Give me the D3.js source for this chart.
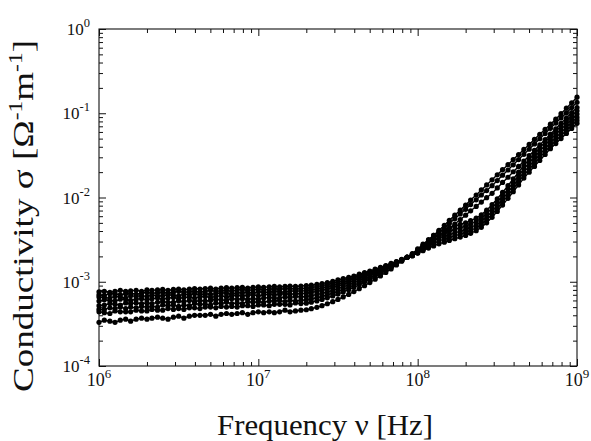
<!DOCTYPE html>
<html><head><meta charset="utf-8">
<script src="https://cdn.jsdelivr.net/npm/d3@7"></script>
<style>body{margin:0;background:#fff}svg{display:block}</style>
</head><body><svg id="c" width="591" height="441"></svg>
<script>
// Frequency grid (Hz)
const freq = [
1.00e6,1.08e6,1.17e6,1.26e6,1.36e6,1.47e6,1.58e6,1.71e6,1.85e6,2.00e6,2.15e6,2.33e6,2.51e6,2.71e6,2.93e6,3.16e6,3.41e6,3.69e6,3.98e6,4.30e6,4.64e6,5.01e6,5.41e6,5.84e6,6.31e6,6.81e6,7.36e6,7.94e6,8.58e6,9.26e6,
1.00e7,1.08e7,1.17e7,1.26e7,1.36e7,1.47e7,1.58e7,1.71e7,1.85e7,2.00e7,2.15e7,2.33e7,2.51e7,2.71e7,2.93e7,3.16e7,3.41e7,3.69e7,3.98e7,4.30e7,4.64e7,5.01e7,5.41e7,5.84e7,6.31e7,6.81e7,7.36e7,7.94e7,8.58e7,9.26e7,
1.00e8,1.08e8,1.17e8,1.26e8,1.36e8,1.47e8,1.58e8,1.71e8,1.85e8,2.00e8,2.15e8,2.33e8,2.51e8,2.71e8,2.93e8,3.16e8,3.41e8,3.69e8,3.98e8,4.30e8,4.64e8,5.01e8,5.41e8,5.84e8,6.31e8,6.81e8,7.36e8,7.94e8,8.58e8,9.26e8,
1.00e9];

// Conductivity series (Ω^-1 m^-1)
const s1 = [7.6e-4,7.7e-4,7.5e-4,7.7e-4,7.9e-4,7.7e-4,7.8e-4,7.9e-4,7.7e-4,8.0e-4,7.9e-4,8.0e-4,8.1e-4,7.9e-4,8.1e-4,8.2e-4,8.0e-4,8.2e-4,8.3e-4,8.2e-4,8.3e-4,8.4e-4,8.2e-4,8.4e-4,8.5e-4,8.4e-4,8.5e-4,8.6e-4,8.4e-4,8.6e-4,8.7e-4,8.6e-4,8.7e-4,8.8e-4,8.7e-4,8.8e-4,8.9e-4,8.8e-4,8.9e-4,
9.0e-4,9.1e-4,9.3e-4,9.5e-4,9.8e-4,1.01e-3,1.05e-3,1.09e-3,1.13e-3,1.17e-3,1.23e-3,1.28e-3,1.34e-3,1.41e-3,1.48e-3,1.56e-3,1.65e-3,1.74e-3,1.84e-3,1.95e-3,
2.09e-3,2.34e-3,2.69e-3,3.09e-3,3.55e-3,4.07e-3,4.68e-3,5.37e-3,6.17e-3,7.08e-3,8.13e-3,9.33e-3,1.07e-2,1.23e-2,1.41e-2,1.62e-2,1.86e-2,2.14e-2,2.45e-2,2.82e-2,3.24e-2,3.72e-2,4.27e-2,4.90e-2,5.62e-2,6.46e-2,7.41e-2,8.51e-2,9.89e-2,0.115,0.133,0.155];
const s2 = [7.0e-4,6.9e-4,7.2e-4,7.2e-4,7.0e-4,7.2e-4,7.3e-4,7.1e-4,7.3e-4,7.5e-4,7.3e-4,7.4e-4,7.5e-4,7.3e-4,7.5e-4,7.7e-4,7.5e-4,7.6e-4,7.7e-4,7.5e-4,7.7e-4,7.9e-4,7.7e-4,7.8e-4,7.9e-4,7.7e-4,8.0e-4,8.1e-4,7.9e-4,8.0e-4,8.2e-4,8.0e-4,8.1e-4,8.3e-4,8.1e-4,8.3e-4,8.3e-4,8.2e-4,8.3e-4,
8.40e-4,8.55e-4,8.74e-4,8.98e-4,9.25e-4,9.57e-4,9.92e-4,1.03e-3,1.08e-3,1.12e-3,1.18e-3,1.24e-3,1.30e-3,1.37e-3,1.45e-3,1.53e-3,1.62e-3,1.72e-3,1.83e-3,1.95e-3,
2.04e-3,2.24e-3,2.51e-3,2.88e-3,3.31e-3,3.80e-3,4.33e-3,4.92e-3,5.60e-3,6.37e-3,7.24e-3,8.24e-3,9.38e-3,1.07e-2,1.21e-2,1.38e-2,1.59e-2,1.84e-2,2.12e-2,2.44e-2,2.82e-2,3.25e-2,3.74e-2,4.32e-2,4.98e-2,5.74e-2,6.62e-2,7.64e-2,8.79e-2,0.101,0.117,0.135];
const s3 = [6.6e-4,6.5e-4,6.4e-4,6.7e-4,6.6e-4,6.4e-4,6.8e-4,6.7e-4,6.8e-4,6.7e-4,6.9e-4,6.8e-4,6.8e-4,7.0e-4,6.9e-4,6.8e-4,7.1e-4,7.0e-4,7.2e-4,7.0e-4,7.2e-4,7.1e-4,7.2e-4,7.4e-4,7.3e-4,7.1e-4,7.4e-4,7.4e-4,7.5e-4,7.3e-4,7.6e-4,7.5e-4,7.5e-4,7.7e-4,7.6e-4,7.5e-4,7.8e-4,7.7e-4,7.8e-4,
7.84e-4,7.99e-4,8.19e-4,8.43e-4,8.71e-4,9.03e-4,9.39e-4,9.80e-4,1.03e-3,1.08e-3,1.13e-3,1.19e-3,1.26e-3,1.33e-3,1.41e-3,1.50e-3,1.60e-3,1.70e-3,1.82e-3,1.95e-3,
2.04e-3,2.19e-3,2.40e-3,2.69e-3,3.02e-3,3.39e-3,3.82e-3,4.31e-3,4.85e-3,5.47e-3,6.17e-3,6.95e-3,7.83e-3,8.83e-3,9.95e-3,1.12e-2,1.30e-2,1.51e-2,1.74e-2,2.02e-2,2.34e-2,2.71e-2,3.14e-2,3.64e-2,4.21e-2,4.88e-2,5.65e-2,6.55e-2,7.59e-2,8.77e-2,0.102,0.117];
const s4 = [5.9e-4,6.1e-4,6.0e-4,5.9e-4,6.2e-4,6.2e-4,6.0e-4,6.2e-4,6.3e-4,6.1e-4,6.3e-4,6.4e-4,6.2e-4,6.4e-4,6.5e-4,6.3e-4,6.5e-4,6.6e-4,6.4e-4,6.6e-4,6.7e-4,6.5e-4,6.7e-4,6.8e-4,6.6e-4,6.8e-4,6.9e-4,6.8e-4,6.9e-4,7.0e-4,6.8e-4,7.0e-4,7.1e-4,7.0e-4,7.1e-4,7.2e-4,7.1e-4,7.2e-4,7.2e-4,
7.32e-4,7.47e-4,7.67e-4,7.91e-4,8.20e-4,8.52e-4,8.90e-4,9.31e-4,9.77e-4,1.03e-3,1.09e-3,1.15e-3,1.22e-3,1.29e-3,1.38e-3,1.47e-3,1.57e-3,1.69e-3,1.81e-3,1.95e-3,
2.16e-3,2.45e-3,2.79e-3,3.16e-3,3.55e-3,3.98e-3,4.17e-3,4.37e-3,4.57e-3,4.79e-3,5.01e-3,5.31e-3,5.69e-3,6.24e-3,7.08e-3,8.22e-3,9.66e-3,1.15e-2,1.38e-2,1.66e-2,2.00e-2,2.40e-2,2.82e-2,3.31e-2,3.89e-2,4.57e-2,5.37e-2,6.17e-2,7.08e-2,8.13e-2,9.33e-2,0.107];
const s5 = [5.2e-4,5.3e-4,5.5e-4,5.4e-4,5.3e-4,5.6e-4,5.5e-4,5.6e-4,5.5e-4,5.6e-4,5.5e-4,5.7e-4,5.8e-4,5.7e-4,5.7e-4,5.9e-4,5.8e-4,6.0e-4,5.8e-4,6.0e-4,5.9e-4,6.0e-4,6.2e-4,6.1e-4,6.0e-4,6.3e-4,6.2e-4,6.3e-4,6.2e-4,6.3e-4,6.2e-4,6.4e-4,6.5e-4,6.4e-4,6.4e-4,6.6e-4,6.5e-4,6.7e-4,6.6e-4,
6.69e-4,6.84e-4,7.04e-4,7.28e-4,7.56e-4,7.89e-4,8.27e-4,8.69e-4,9.16e-4,9.69e-4,1.03e-3,1.09e-3,1.17e-3,1.25e-3,1.34e-3,1.43e-3,1.54e-3,1.66e-3,1.80e-3,1.95e-3,
2.13e-3,2.38e-3,2.66e-3,2.97e-3,3.29e-3,3.63e-3,3.80e-3,3.98e-3,4.17e-3,4.37e-3,4.57e-3,4.84e-3,5.19e-3,5.69e-3,6.46e-3,7.50e-3,8.81e-3,1.05e-2,1.26e-2,1.51e-2,1.82e-2,2.19e-2,2.57e-2,3.02e-2,3.55e-2,4.17e-2,4.90e-2,5.62e-2,6.46e-2,7.41e-2,8.51e-2,9.77e-2];
const s6 = [4.7e-4,4.7e-4,4.9e-4,4.8e-4,5.0e-4,4.8e-4,5.0e-4,4.9e-4,5.1e-4,5.0e-4,5.1e-4,5.0e-4,5.3e-4,5.2e-4,5.3e-4,5.1e-4,5.3e-4,5.2e-4,5.5e-4,5.4e-4,5.4e-4,5.3e-4,5.6e-4,5.5e-4,5.7e-4,5.5e-4,5.6e-4,5.5e-4,5.8e-4,5.7e-4,5.8e-4,5.7e-4,5.9e-4,5.9e-4,6.0e-4,5.8e-4,6.0e-4,5.9e-4,6.0e-4,
6.11e-4,6.25e-4,6.45e-4,6.69e-4,6.98e-4,7.31e-4,7.69e-4,8.11e-4,8.59e-4,9.13e-4,9.72e-4,1.04e-3,1.11e-3,1.20e-3,1.29e-3,1.40e-3,1.51e-3,1.64e-3,1.79e-3,1.95e-3,
2.10e-3,2.31e-3,2.54e-3,2.80e-3,3.04e-3,3.31e-3,3.47e-3,3.63e-3,3.80e-3,3.98e-3,4.17e-3,4.42e-3,4.73e-3,5.19e-3,5.89e-3,6.84e-3,8.04e-3,9.55e-3,1.15e-2,1.38e-2,1.66e-2,2.00e-2,2.34e-2,2.75e-2,3.24e-2,3.80e-2,4.47e-2,5.13e-2,5.89e-2,6.76e-2,7.76e-2,8.91e-2];
const s7 = [4.4e-4,4.3e-4,4.2e-4,4.5e-4,4.4e-4,4.4e-4,4.4e-4,4.6e-4,4.5e-4,4.5e-4,4.7e-4,4.6e-4,4.6e-4,4.8e-4,4.7e-4,4.8e-4,4.7e-4,4.9e-4,4.9e-4,4.8e-4,5.0e-4,5.0e-4,4.9e-4,5.1e-4,5.0e-4,5.1e-4,5.0e-4,5.2e-4,5.2e-4,5.1e-4,5.3e-4,5.3e-4,5.2e-4,5.4e-4,5.4e-4,5.4e-4,5.3e-4,5.6e-4,5.5e-4,
5.57e-4,5.72e-4,5.92e-4,6.16e-4,6.44e-4,6.77e-4,7.14e-4,7.57e-4,8.05e-4,8.60e-4,9.21e-4,9.90e-4,1.07e-3,1.15e-3,1.25e-3,1.36e-3,1.48e-3,1.62e-3,1.78e-3,1.95e-3,
2.07e-3,2.25e-3,2.44e-3,2.65e-3,2.84e-3,3.05e-3,3.20e-3,3.35e-3,3.51e-3,3.67e-3,3.85e-3,4.07e-3,4.37e-3,4.79e-3,5.43e-3,6.31e-3,7.41e-3,8.81e-3,1.06e-2,1.27e-2,1.53e-2,1.84e-2,2.16e-2,2.54e-2,2.99e-2,3.51e-2,4.12e-2,4.73e-2,5.43e-2,6.24e-2,7.16e-2,8.22e-2];
const s8 = [3.3e-4,3.5e-4,3.4e-4,3.3e-4,3.5e-4,3.6e-4,3.4e-4,3.6e-4,3.7e-4,3.6e-4,3.7e-4,3.8e-4,3.7e-4,3.6e-4,3.8e-4,3.9e-4,3.7e-4,3.9e-4,4.0e-4,4.0e-4,4.0e-4,4.1e-4,3.9e-4,4.1e-4,4.2e-4,4.1e-4,4.2e-4,4.3e-4,4.1e-4,4.3e-4,4.4e-4,4.3e-4,4.4e-4,4.3e-4,4.4e-4,4.6e-4,4.4e-4,4.5e-4,4.6e-4,
4.65e-4,4.79e-4,4.97e-4,5.20e-4,5.48e-4,5.80e-4,6.17e-4,6.60e-4,7.08e-4,7.64e-4,8.26e-4,8.97e-4,9.77e-4,1.07e-3,1.17e-3,1.29e-3,1.42e-3,1.58e-3,1.75e-3,1.95e-3,
2.04e-3,2.19e-3,2.34e-3,2.51e-3,2.66e-3,2.82e-3,2.95e-3,3.09e-3,3.24e-3,3.39e-3,3.55e-3,3.76e-3,4.03e-3,4.42e-3,5.01e-3,5.82e-3,6.84e-3,8.13e-3,9.77e-3,1.17e-2,1.41e-2,1.70e-2,2.00e-2,2.34e-2,2.75e-2,3.24e-2,3.80e-2,4.37e-2,5.01e-2,5.75e-2,6.61e-2,7.59e-2];
const seriesList = [s1, s2, s3, s4, s5, s6, s7, s8];

// Axis ticks and labels
const xTicks = [1e6, 1e7, 1e8, 1e9];
const xExp = ["6", "7", "8", "9"];
const yTicks = [1e-4, 1e-3, 1e-2, 1e-1, 1e0];
const yExp = ["-4", "-3", "-2", "-1", "0"];
const xTitle = "Frequency  \u03bd [Hz]";
const yTitle = ["Conductivity  \u03c3 [\u03a9", "-1", "m", "-1", "]"];

const FONT = "'Liberation Serif','Times New Roman',serif";
const svg = d3.select("#c");
const L = 99, R = 577, T = 29, B = 366;
const x = d3.scaleLog().domain([1e6, 1e9]).range([L, R]);
const y = d3.scaleLog().domain([1e-4, 1]).range([B, T]);

svg.append("rect").attr("width", 591).attr("height", 441).attr("fill", "#fff");

// Minor tick values from the scales
const xMinor = x.ticks().filter(v => !xTicks.some(t => Math.abs(t - v) / t < 1e-6));
const yMinor = y.ticks().filter(v => !yTicks.some(t => Math.abs(t - v) / t < 1e-6));

function axisLayer(axisFn, scale, vals, size, tr) {
  const g = svg.append("g").attr("transform", tr)
    .call(axisFn(scale).tickValues(vals).tickSize(-size).tickFormat(""));
  g.select(".domain").remove();
  g.selectAll(".tick line").attr("stroke", "#111").attr("stroke-width", 1);
}
axisLayer(d3.axisBottom, x, xTicks, 7, `translate(0,${B})`);
axisLayer(d3.axisBottom, x, xMinor, 4, `translate(0,${B})`);
axisLayer(d3.axisTop, x, xTicks, 7, `translate(0,${T})`);
axisLayer(d3.axisTop, x, xMinor, 4, `translate(0,${T})`);
axisLayer(d3.axisLeft, y, yTicks, 7, `translate(${L},0)`);
axisLayer(d3.axisLeft, y, yMinor, 4, `translate(${L},0)`);
axisLayer(d3.axisRight, y, yTicks, 7, `translate(${R},0)`);
axisLayer(d3.axisRight, y, yMinor, 4, `translate(${R},0)`);

svg.append("rect").attr("x", L).attr("y", T).attr("width", R - L).attr("height", B - T)
  .attr("fill", "none").attr("stroke", "#111").attr("stroke-width", 1.1);

// Data
const line = d3.line().x((d, i) => x(freq[i])).y(d => y(d));
const plot = svg.append("g");
seriesList.forEach(s => {
  plot.append("path").datum(s).attr("d", line)
    .attr("fill", "none").attr("stroke", "#000").attr("stroke-width", 1.4);
});
seriesList.forEach(s => {
  plot.append("g").selectAll("circle").data(s).join("circle")
    .attr("cx", (d, i) => x(freq[i])).attr("cy", d => y(d)).attr("r", 2.6).attr("fill", "#000");
});

// Tick labels
xTicks.forEach((t, i) => {
  const tx = svg.append("text").attr("x", x(t)).attr("y", 386)
    .attr("text-anchor", "middle").attr("font-family", FONT).attr("font-size", 18).attr("fill", "#111");
  tx.append("tspan").text("10");
  tx.append("tspan").attr("dy", -8).attr("font-size", 13).text(xExp[i]);
});
yTicks.forEach((t, i) => {
  const tx = svg.append("text").attr("x", 90).attr("y", y(t) + 6)
    .attr("text-anchor", "end").attr("font-family", FONT).attr("font-size", 17).attr("fill", "#111");
  tx.append("tspan").text("10");
  tx.append("tspan").attr("dy", -8).attr("font-size", 12.5).text(yExp[i]);
});

// Axis titles
svg.append("text").attr("x", 325).attr("y", 435).attr("text-anchor", "middle")
  .attr("font-family", FONT).attr("font-size", 29).attr("fill", "#111")
  .attr("textLength", 216).attr("lengthAdjust", "spacingAndGlyphs").text(xTitle);

const yt = svg.append("text").attr("transform", "translate(33,216) rotate(-90)")
  .attr("text-anchor", "middle").attr("font-family", FONT).attr("font-size", 30).attr("fill", "#111")
  .attr("textLength", 352).attr("lengthAdjust", "spacingAndGlyphs");
yt.append("tspan").text(yTitle[0]);
yt.append("tspan").attr("dy", -11).attr("font-size", 19).text(yTitle[1]);
yt.append("tspan").attr("dy", 11).text(yTitle[2]);
yt.append("tspan").attr("dy", -11).attr("font-size", 19).text(yTitle[3]);
yt.append("tspan").attr("dy", 11).text(yTitle[4]);
</script>
</body></html>
